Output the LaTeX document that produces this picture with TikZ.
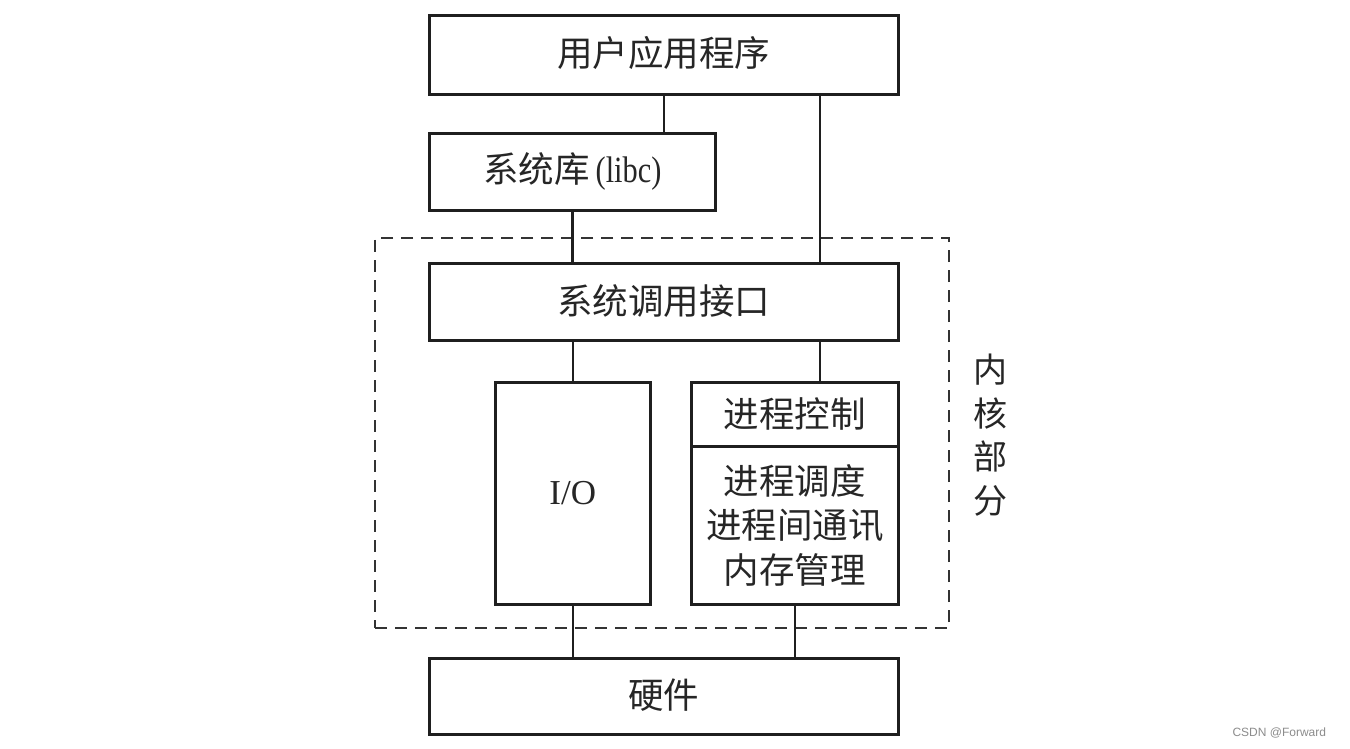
\documentclass[tikz,border=0pt]{standalone}
\usepackage{fontspec}
\setmainfont{Liberation Serif}
\newfontfamily\cjk{Noto Sans CJK SC}
\newfontfamily\narrowlatin[FakeStretch=0.82]{Liberation Serif}
\newfontfamily\wmfont{Liberation Sans}
\begin{document}
\begin{tikzpicture}[x=1pt,y=-1pt,
  box/.style={draw=black!88, line width=2.6pt, inner sep=0pt, anchor=north west,
    align=center, font=\fontsize{35.5}{44.5}\selectfont\cjk, text=black!85},
  link/.style={draw=black!88, line width=2.6pt},
  kernelbox/.style={draw=black!80, line width=2pt, dash pattern=on 12pt off 8pt,
    inner sep=0pt, minimum width=574pt, minimum height=390pt},
  sidelabel/.style={align=center, font=\fontsize{34}{43.5}\selectfont\cjk, text=black!85},
  watermark/.style={font=\fontsize{12}{14}\selectfont\wmfont, text=black!45, anchor=west}
]
\useasboundingbox (0,0) rectangle (1350,749);
\fill[white] (0,0) rectangle (1350,749);

% kernel region (dashed)
\node[kernelbox] (kernel) at (662,433) {};

% boxes
\node[box, minimum width=469pt, minimum height=79pt] (app) at (428,14)
  {\raisebox{7pt}{用户应用程序}};
\node[box, minimum width=286pt, minimum height=77pt] (libc) at (428,132)
  {\raisebox{1pt}{系统库\,{\narrowlatin\fontsize{37}{40}\selectfont (libc)}}};
\node[box, minimum width=469pt, minimum height=77pt] (sys) at (428,262)
  {\raisebox{4pt}{系统调用接口}};
\node[box, minimum width=155pt, minimum height=222pt] (io) at (494,381)
  {{\rmfamily\fontsize{35}{40}\selectfont I/O}};
\node[box, minimum width=207pt, minimum height=64pt] (pctl) at (690,381)
  {\raisebox{4pt}{进程控制}};
\node[box, minimum width=207pt, minimum height=158pt] (pmem) at (690,445)
  {进程调度\\进程间通讯\\内存管理};
\node[box, minimum width=469pt, minimum height=76pt] (hw) at (428,657)
  {\raisebox{5pt}{硬件}};

% connectors
\coordinate (rx) at (820,93);
\draw[link] (app.south) -- (app.south |- libc.north);
\draw[link] (rx) -- (rx |- sys.north);
\draw[link] (libc.south) -- (libc.south |- sys.north);
\draw[link] (io.north) -- (io.north |- sys.south);
\draw[link] (sys.south -| rx) -- (pctl.north -| rx);
\draw[link] (io.south) -- (io.south |- hw.north);
\draw[link] (pmem.south) -- (pmem.south |- hw.north);

% side label
\node[sidelabel] (klabel) at (990,435) {内\\核\\部\\分};

% watermark
\node[watermark] (wm) at (1229,733) {CSDN @Forward};
\end{tikzpicture}
\end{document}
